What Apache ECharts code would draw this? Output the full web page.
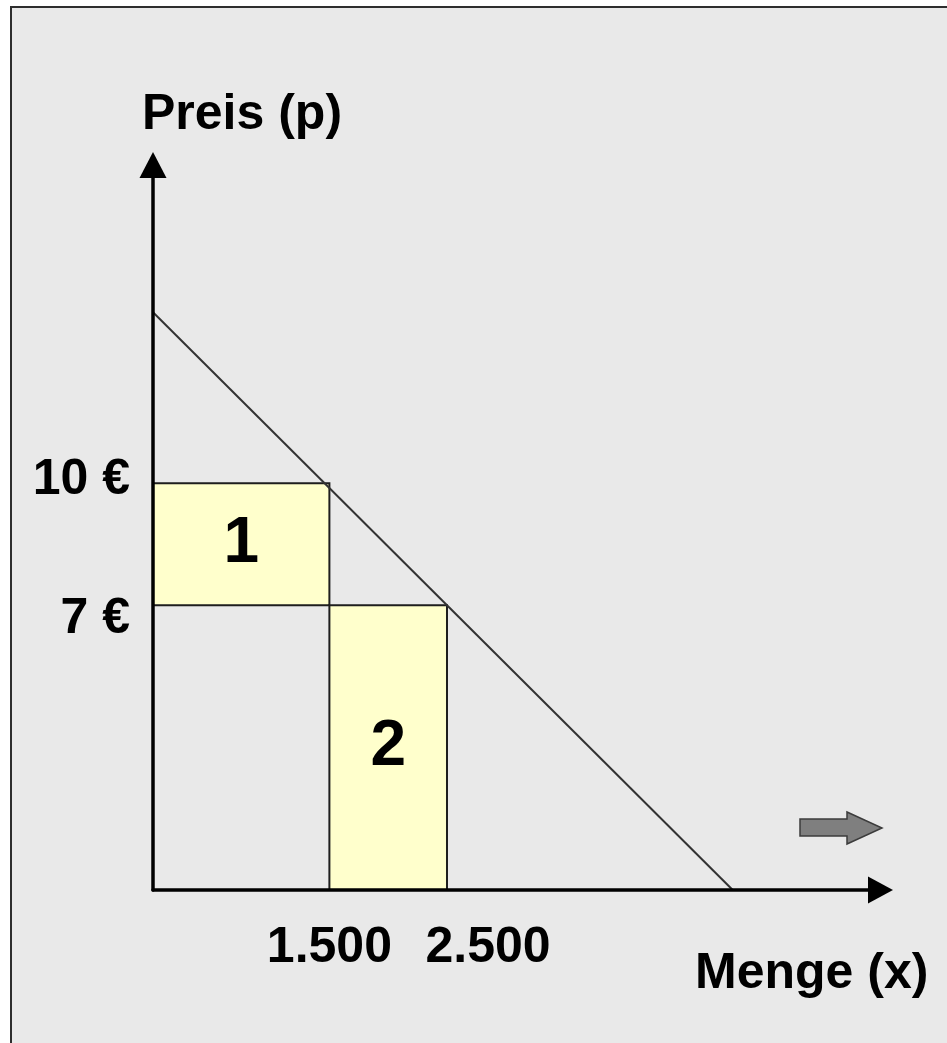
<!DOCTYPE html>
<html>
<head>
<meta charset="utf-8">
<script src="https://cdn.jsdelivr.net/npm/echarts@6/dist/echarts.min.js"></script>
<style>
  html, body { margin: 0; padding: 0; background: #ffffff; }
  #chart { width: 947px; height: 1043px; }
</style>
</head>
<body>
<div id="chart"></div>
<script>
// Demand curve: price p against quantity x
const demandLine = [[0, 14.2], [4930, 0]];

// Revenue rectangles: quantity span, price span and their numbers
const areaX = [[0, 1500], [1500, 2500]];
const areaP = [[7, 10], [0, 7]];
const areaNames = ['1', '2'];

// Tick labels on both axes
const priceTicks = [10, 7];
const quantityTicks = [1500, 2500];
const axisTitles = ['Preis (p)', 'Menge (x)'];

const FAMILY = '"Liberation Sans", Arial, Helvetica, sans-serif';
const LABEL_FONT = 'bold 50px ' + FAMILY;

// German thousands separator: 1500 -> "1.500"
function fmtQty(v) {
  return String(v).replace(/\B(?=(\d{3})+(?!\d))/g, '.');
}

const labelBase = { fontSize: 50, fontWeight: 'bold', fontFamily: FAMILY, color: '#000', lineHeight: 50 };

const chart = echarts.init(document.getElementById('chart'), null, { renderer: 'canvas' });

const staticGraphics = [
  {
    id: 'frame',
    type: 'rect',
    z: -10,
    silent: true,
    shape: { x: 11, y: 7, width: 980, height: 1080 },
    style: { fill: '#e9e9e9', stroke: '#2e2e2e', lineWidth: 2 }
  },
  {
    id: 'titleP',
    type: 'text',
    x: 142,
    y: 115,
    silent: true,
    style: { text: axisTitles[0], font: LABEL_FONT, fill: '#000', align: 'left', verticalAlign: 'middle' }
  },
  {
    id: 'titleX',
    type: 'text',
    x: 695,
    y: 974,
    silent: true,
    style: { text: axisTitles[1], font: LABEL_FONT, fill: '#000', align: 'left', verticalAlign: 'middle' }
  },
  {
    // shift arrow pointing towards larger quantities
    id: 'shift',
    type: 'polygon',
    silent: true,
    shape: {
      points: [[800, 819], [847, 819], [847, 812], [882, 828], [847, 844], [847, 836], [800, 836]]
    },
    style: { fill: '#7f7f7f', stroke: '#3c3c3c', lineWidth: 1.5 }
  }
];

chart.setOption({
  backgroundColor: '#ffffff',
  animation: false,
  grid: { left: 153, top: 178, width: 715, height: 712, containLabel: false },
  xAxis: {
    type: 'value',
    min: 0,
    max: 6080,
    z: 10,
    axisLine: {
      show: true,
      lineStyle: { color: '#000', width: 3.5 },
      symbol: ['none', 'triangle'],
      symbolSize: [27, 25],
      symbolOffset: [0, 12.5]
    },
    axisTick: { show: false },
    splitLine: { show: false },
    axisLabel: { show: false }
  },
  yAxis: {
    type: 'value',
    min: 0,
    max: 17.5,
    z: 10,
    axisLine: {
      show: true,
      lineStyle: { color: '#000', width: 3.5 },
      symbol: ['none', 'triangle'],
      symbolSize: [27, 26],
      symbolOffset: [0, 13]
    },
    axisTick: { show: false },
    splitLine: { show: false },
    axisLabel: {
      customValues: priceTicks,
      margin: 23,
      hideOverlap: false,
      formatter: function (v) {
        return (v === priceTicks[1] ? '{b|' : '{a|') + v + ' €}';
      },
      rich: {
        a: Object.assign({}, labelBase, { padding: [0, 0, 6, 0] }),
        b: Object.assign({}, labelBase, { padding: [28, 0, 0, 0] })
      }
    }
  },
  series: [{
    type: 'line',
    data: demandLine,
    symbol: 'none',
    z: 5,
    lineStyle: { color: '#333333', width: 2 },
    markArea: {
      silent: true,
      itemStyle: { color: '#ffffcc', borderColor: '#1e1e1e', borderWidth: 2 },
      label: {
        show: true,
        position: 'inside',
        fontSize: 64,
        fontWeight: 'bold',
        fontFamily: FAMILY,
        color: '#000'
      },
      data: areaX.map(function (xr, i) {
        return [
          { name: areaNames[i], coord: [xr[0], areaP[i][1]] },
          { coord: [xr[1], areaP[i][0]] }
        ];
      })
    }
  }],
  graphic: staticGraphics
});

// Quantity tick labels, placed from the x axis scale; the second one is
// nudged right so the two wide labels sit side by side.
const labelNudge = [0, 41];
const qtyLabels = quantityTicks.map(function (q, i) {
  const p = chart.convertToPixel({ gridIndex: 0 }, [q, 0]);
  return {
    id: 'qty' + i,
    type: 'text',
    x: p[0] + labelNudge[i],
    y: p[1] + 58,
    silent: true,
    z: 20,
    style: { text: fmtQty(q), font: LABEL_FONT, fill: '#000', align: 'center', verticalAlign: 'middle' }
  };
});
chart.setOption({ graphic: staticGraphics.concat(qtyLabels) });
</script>
</body>
</html>
